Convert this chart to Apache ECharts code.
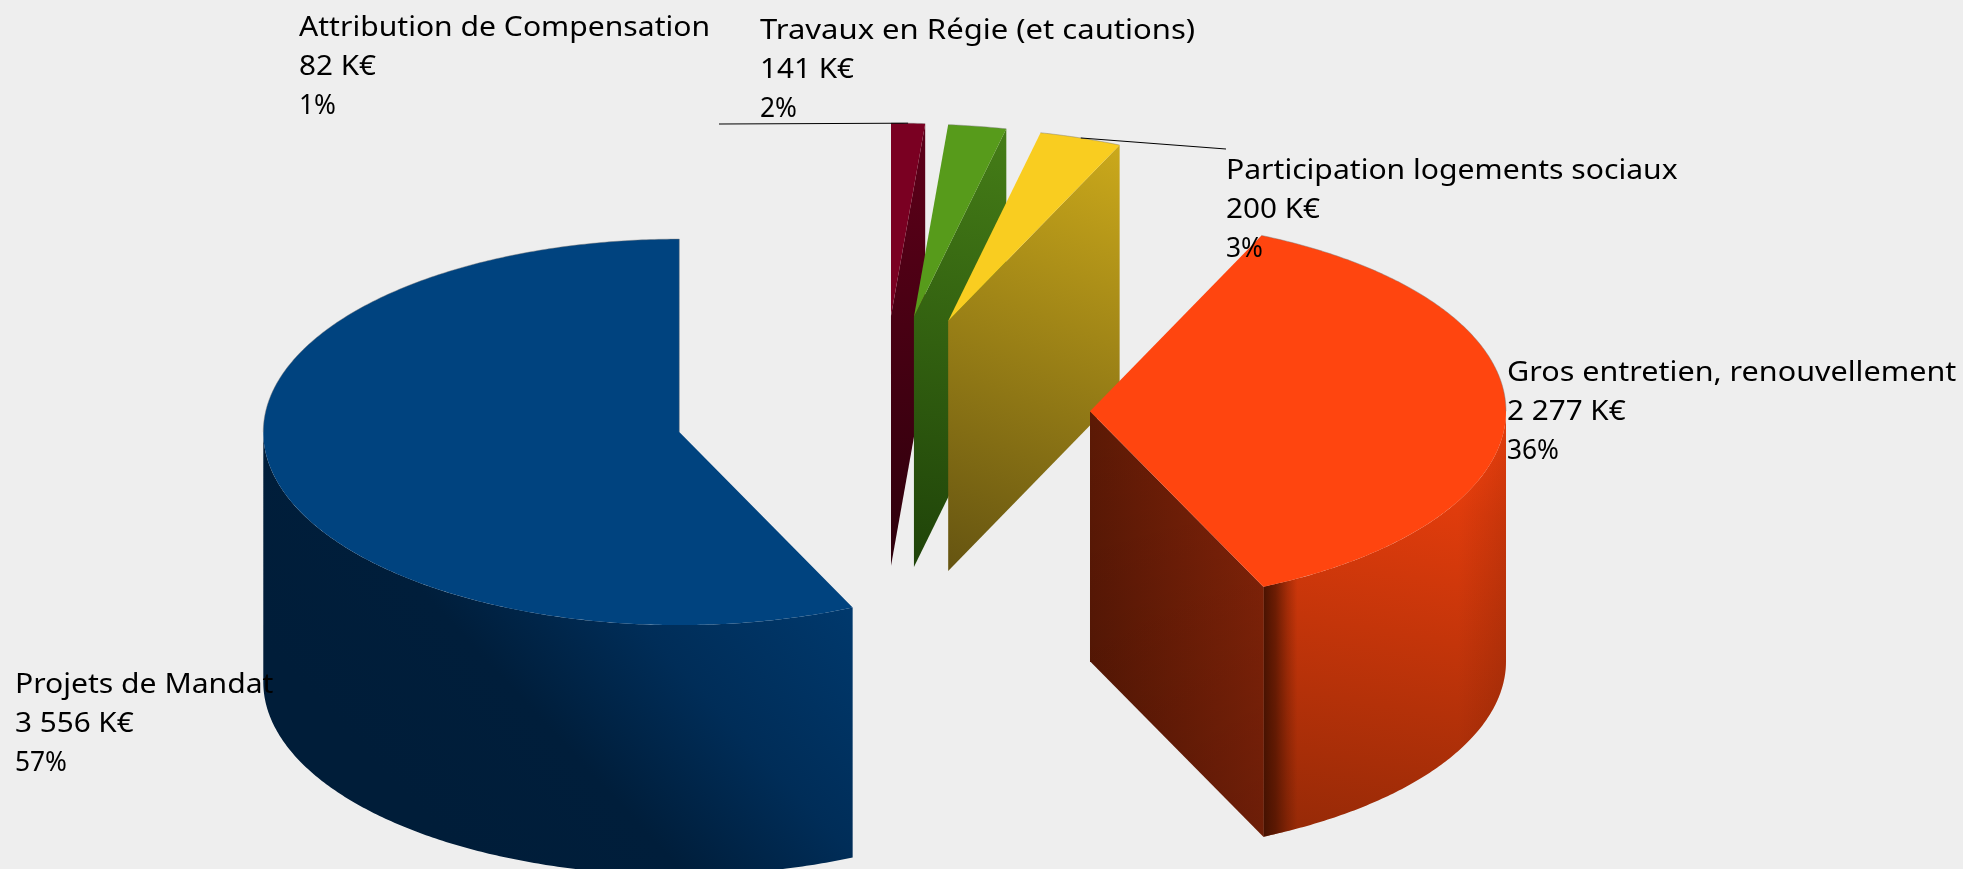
<!DOCTYPE html>
<html><head><meta charset="utf-8">
<style>html,body{margin:0;padding:0;background:#eeeeee}#c{width:1963px;height:869px}</style>
<script src="https://cdn.jsdelivr.net/npm/echarts@6/dist/echarts.min.js"></script></head>
<body><div id="c"></div>
<script>
// ---- data ----
const categories = ['Attribution de Compensation','Travaux en Régie (et cautions)','Participation logements sociaux','Gros entretien, renouvellement','Projets de Mandat'];
const valuesKE = [82,141,200,2277,3556];
const valueLabels = ['82 K€','141 K€','200 K€','2 277 K€','3 556 K€'];
const percentLabels = ['1%','2%','3%','36%','57%'];

// ---- layout / style ----
const CX=882.5,CY=411.5,RX=416,RY=193,DEPTH=250;
const explode=[206,206,206,207.5,208];
const labelPos=[[299,9],[760,12],[1226,152],[1507,354],[15,666]];
const nameScale=[1.075,1.108,1.075,1.09,1.075];
const FONT={family:'"Noto Sans"',size:28,line:39,valueScale:1.06,percentScale:0.94};
const G=echarts.graphic.LinearGradient;
const lg=(x0,y0,x1,y1,stops)=>new G(x0,y0,x1,y1,stops.map((c,i)=>({offset:Array.isArray(c)?c[0]:i/(stops.length-1),color:Array.isArray(c)?c[1]:c})));
const sliceStyle=[
 {top:'#7a0022',cut:lg(0,0,0,1,['#5e0019','#2e000c'])},
 {top:'#579b1b',cut:lg(1,0,0,1,['#457d17','#1f4309'])},
 {top:'#f9cd20',cut:lg(1,0,0,1,['#cba91b','#655411'])},
 {top:'#ff450f',cut:lg(0,0,1,0,['#5c1905','#852409']),cutShade:lg(0,0,0,1,['rgba(0,0,0,0)','rgba(0,0,0,0.18)']),
  side:lg(0.75,0,0.45,1,[[0,'#ff450f'],[0.22,'#e03c0c'],[1,'#982a07']]),
  sideEdge:lg(0,0,1,0,[[0,'rgba(60,15,0,0.9)'],[0.05,'rgba(60,15,0,0.65)'],[0.1,'rgba(60,15,0,0.25)'],[0.14,'rgba(60,15,0,0)'],[0.8,'rgba(60,15,0,0)'],[1,'rgba(60,15,0,0.16)']])},
 {top:'#00437f',side:lg(1,0.1,0.32,0.94,[[0,'#003f78'],[0.47,'#002d58'],[0.72,'#001e3b'],[1,'#001d39']])}
];
const total=valuesKE.reduce((a,b)=>a+b,0);
const starts=[];valuesKE.reduce((a,v,i)=>{starts[i]=a;return a+v;},0);
const ang=v=>v/total*2*Math.PI;
function geom(i){
  const a0=ang(starts[i]),a1=ang(starts[i]+valuesKE[i]),mid=(a0+a1)/2;
  const ax=CX+explode[i]*Math.sin(mid),ay=CY-explode[i]*Math.cos(mid)*RY/RX;
  const pt=a=>[ax+RX*Math.sin(a),ay-RY*Math.cos(a)];
  return {a0,a1,mid,ax,ay,pt};
}
function arc(g,a,b){const n=Math.max(2,Math.ceil(Math.abs(b-a)/0.01));const o=[];for(let k=0;k<=n;k++)o.push(g.pt(a+(b-a)*k/n));return o;}
const down=p=>[p[0],p[1]+DEPTH];
const HP=Math.PI/2;
function renderSlice(params,api){
  const i=api.value(1),g=geom(i),s=sliceStyle[i],kids=[];
  const poly=(points,fill)=>kids.push({type:'polygon',shape:{points},style:{fill},silent:true});
  const apex=[g.ax,g.ay];
  // outer wall (only the part facing the viewer)
  const w0=Math.max(g.a0,HP),w1=Math.min(g.a1,3*HP);
  if(w1>w0&&s.side){
    const t=arc(g,w0,w1),pts=t.concat(t.slice().reverse().map(down));
    poly(pts,s.side);
    if(s.sideEdge)poly(pts,s.sideEdge);
  }
  // cut face at the end angle, when it faces the viewer
  if(s.cut){
    const e=g.pt(g.a1);
    const pts=[apex,e,down(e),down(apex)];
    poly(pts,s.cut);
    if(s.cutShade)poly(pts,s.cutShade);
  }
  // top
  poly([apex].concat(arc(g,g.a0,g.a1)),s.top);
  // thin grey rim on the far edge of the top, as in the raster source
  let rim=[];
  if(g.a0<HP) rim=arc(g,g.a0,Math.min(g.a1,HP));
  else if(g.a1>3*HP) rim=arc(g,3*HP,g.a1);
  if(rim.length){
    if(i===4) rim=rim.concat([apex]);
    kids.push({type:'polyline',silent:true,shape:{points:rim},style:{stroke:'rgba(120,120,120,0.55)',lineWidth:0.8,fill:null}});
  }
  return {type:'group',children:kids};
}
function renderLabel(params,api){
  const i=api.value(1),p=labelPos[i];
  const lines=[categories[i],valueLabels[i],percentLabels[i]];
  const scales=[nameScale[i],FONT.valueScale,FONT.percentScale];
  return {type:'group',children:lines.map((t,k)=>({type:'text',x:p[0],y:p[1]+k*FONT.line,scaleX:scales[k],silent:true,style:{
    text:t,fontFamily:FONT.family,fontSize:FONT.size,lineHeight:FONT.line,fill:'#000',textAlign:'left',textVerticalAlign:'top'}}))};
}
const leaders=[{slice:0,to:[719,124]},{slice:2,to:[1226,149]}];
function renderLeader(params,api){
  const l=leaders[api.value(0)],g=geom(l.slice),m=g.pt(g.mid);
  return {type:'line',silent:true,shape:{x1:l.to[0],y1:l.to[1],x2:m[0],y2:m[1]},style:{stroke:'#000',lineWidth:1}};
}
const chart=echarts.init(document.getElementById('c'),null,{renderer:'canvas'});
chart.setOption({
  animation:false,backgroundColor:'#eeeeee',
  series:[
   {type:'custom',coordinateSystem:'none',z:2,renderItem:renderSlice,data:valuesKE.map((v,i)=>[v,i])},
   {type:'custom',coordinateSystem:'none',z:3,renderItem:renderLeader,data:leaders.map((l,i)=>[i])},
   {type:'custom',coordinateSystem:'none',z:4,renderItem:renderLabel,data:valuesKE.map((v,i)=>[v,i])}
  ]
});
</script></body></html>
